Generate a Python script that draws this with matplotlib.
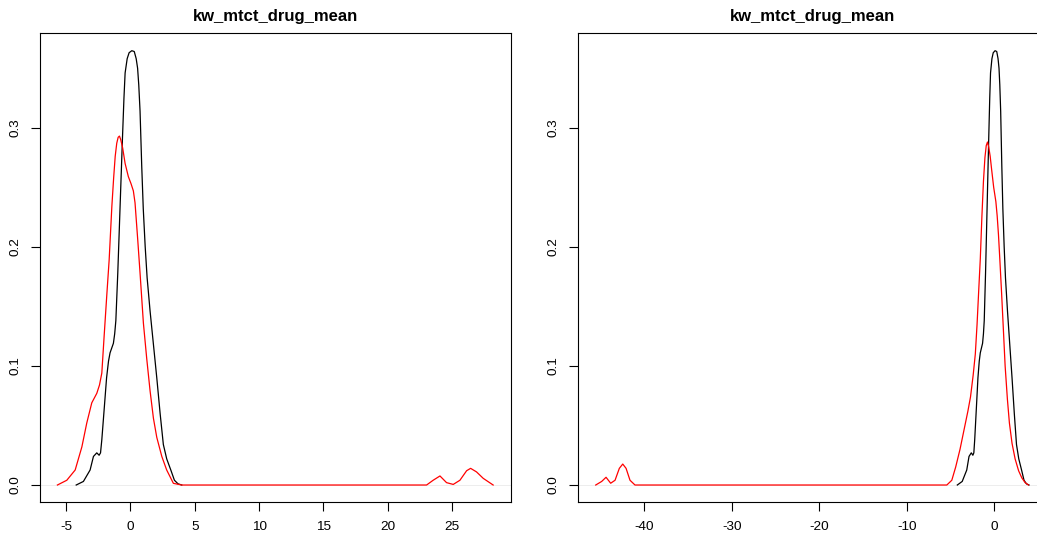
import matplotlib.pyplot as plt

plt.rcParams['font.family'] = ['Liberation Sans', 'DejaVu Sans']

titulo = 'kw_mtct_drug_mean'

# densidad negra (igual en ambos paneles)
negro_x = [-4.21, -3.65, -3.13, -2.87, -2.61, -2.43, -2.32, -2.22, -2.02, -1.85,
           -1.70, -1.58, -1.45, -1.32, -1.22, -1.13, -0.98, -0.80, -0.62, -0.50,
           -0.41, -0.25, -0.10, 0.11, 0.30, 0.45, 0.56, 0.65, 0.75, 0.88,
           1.00, 1.15, 1.30, 1.53, 1.79, 2.05, 2.31, 2.56, 2.82, 3.16,
           3.42, 3.70, 3.99]
negro_y = [0.0, 0.003, 0.0126, 0.024, 0.027, 0.025, 0.027, 0.038, 0.066, 0.090,
           0.104, 0.111, 0.115, 0.119, 0.127, 0.138, 0.178, 0.234, 0.290, 0.325,
           0.346, 0.358, 0.363, 0.3647, 0.364, 0.358, 0.350, 0.336, 0.314, 0.268,
           0.232, 0.200, 0.174, 0.146, 0.118, 0.090, 0.060, 0.034, 0.022, 0.012,
           0.004, 0.001, 0.0]

# densidad roja, panel izquierdo
rojo_izq_x = [-5.67, -4.94, -4.29, -3.77, -3.39, -3.00, -2.61, -2.40, -2.22, -2.04,
              -1.83, -1.65, -1.44, -1.30, -1.18, -1.06, -0.95, -0.85, -0.75, -0.60,
              -0.41, -0.16, 0.05, 0.23, 0.36, 0.57, 0.75, 1.01, 1.27, 1.53,
              1.79, 2.05, 2.44, 2.82, 3.34, 3.99,
              23.01, 23.52, 24.05, 24.56, 25.08, 25.60, 26.12, 26.43, 26.89, 27.41,
              28.18]
rojo_izq_y = [0.0, 0.004, 0.0126, 0.032, 0.052, 0.069, 0.077, 0.084, 0.094, 0.125,
              0.160, 0.189, 0.234, 0.258, 0.276, 0.287, 0.292, 0.293, 0.290, 0.283,
              0.270, 0.259, 0.253, 0.247, 0.237, 0.206, 0.178, 0.136, 0.106, 0.079,
              0.056, 0.040, 0.024, 0.0126, 0.0014, 0.0,
              0.0, 0.004, 0.0076, 0.002, 0.0005, 0.004, 0.012, 0.014, 0.011, 0.0056,
              0.0]

# densidad roja, panel derecho
rojo_der_x = [-45.57, -44.89, -44.39, -43.86, -43.36, -42.87, -42.48, -42.10, -41.65, -41.08,
              -5.41, -4.84, -4.40, -3.90, -3.45, -3.00, -2.70, -2.40, -2.15, -1.95,
              -1.75, -1.58, -1.40, -1.22, -1.05, -0.90, -0.76, -0.62, -0.45, -0.27,
              -0.05, 0.20, 0.35, 0.50, 0.65, 0.85, 1.05, 1.26, 1.52, 1.75,
              2.05, 2.40, 2.80, 3.17, 3.55, 3.93]
rojo_der_y = [0.0, 0.003, 0.0065, 0.0015, 0.004, 0.014, 0.0176, 0.014, 0.004, 0.0,
              0.0, 0.004, 0.015, 0.030, 0.046, 0.062, 0.074, 0.092, 0.110, 0.135,
              0.165, 0.190, 0.225, 0.255, 0.275, 0.285, 0.288, 0.284, 0.276, 0.264,
              0.250, 0.238, 0.226, 0.210, 0.190, 0.162, 0.132, 0.100, 0.072, 0.052,
              0.035, 0.022, 0.012, 0.006, 0.002, 0.0]

ticks_izq = [-5, 0, 5, 10, 15, 20, 25]
ticks_der = [-40, -30, -20, -10, 0]
ticks_y = [0.0, 0.1, 0.2, 0.3]

fig = plt.figure(figsize=(10.37, 5.39), dpi=100)
ax1 = fig.add_axes([0.0386, 0.0679, 0.4537, 0.8703])
ax2 = fig.add_axes([0.5577, 0.0679, 0.4522, 0.8703])

paneles = [
    (ax1, rojo_izq_x, rojo_izq_y, ticks_izq, (-7.02, 29.53)),
    (ax2, rojo_der_x, rojo_der_y, ticks_der, (-47.56, 6.08)),
]

for ax, rx, ry, xt, lim in paneles:
    ax.axhline(0, color='#e6e6e6', lw=0.5, zorder=1)
    ax.plot(negro_x, negro_y, color='black', lw=0.9, zorder=2)
    ax.plot(rx, ry, color='red', lw=0.9, zorder=3)
    ax.set_xlim(lim)
    ax.set_ylim(-0.0146, 0.3793)
    ax.set_xticks(xt)
    ax.set_xticklabels([str(t) for t in xt])
    ax.set_yticks(ticks_y)
    ax.set_yticklabels(['%.1f' % t for t in ticks_y], rotation=90, va='center')
    ax.tick_params(length=6.5, width=0.8, pad=7, labelsize=9.7, color='black')
    for s in ax.spines.values():
        s.set_linewidth(0.8)
        s.set_color('black')
    ax.set_title(titulo, fontsize=12, fontweight='bold', pad=9)

fig.savefig('out.png', dpi=100)
